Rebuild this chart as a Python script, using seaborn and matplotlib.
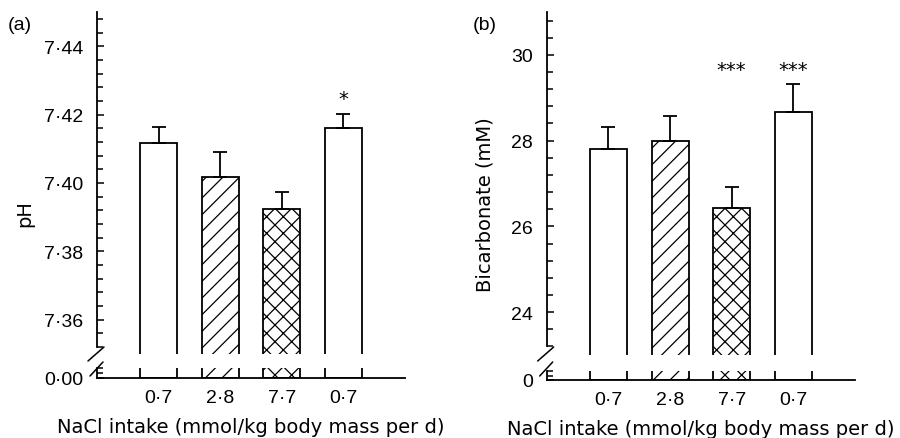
import matplotlib
matplotlib.use("Agg")
import matplotlib.pyplot as plt
from matplotlib.lines import Line2D
import seaborn as sns
import numpy as np
import pandas as pd

# ---- data ----
groups = ["g1", "g2", "g3", "g4"]
tick_labels = ["0·7", "2·8", "7·7", "0·7"]
hatches = ["", "//", "xx", ""]

ph_mean = [7.4117, 7.4017, 7.3923, 7.4160]
ph_sem = [0.0046, 0.0074, 0.0052, 0.0043]
ph_stars = ["", "", "", "*"]
ph_star_y = 7.4248

bic_mean = [27.80, 28.00, 26.44, 28.67]
bic_sem = [0.51, 0.57, 0.49, 0.66]
bic_stars = ["", "", "***", "***"]
bic_star_y = 29.67

ph_major = [7.36, 7.38, 7.40, 7.42, 7.44]
ph_major_lbl = ["7·36", "7·38", "7·40", "7·42", "7·44"]
bic_major = [24, 26, 28, 30]
bic_major_lbl = ["24", "26", "28", "30"]

xlabel = "NaCl intake (mmol/kg body mass per d)"

sns.set_theme(style="ticks")
plt.rcParams["font.family"] = ["Liberation Sans", "DejaVu Sans"]
plt.rcParams["hatch.linewidth"] = 0.9
plt.rcParams["axes.linewidth"] = 1.3
for key in ["text.color", "axes.labelcolor", "xtick.color", "ytick.color",
            "axes.edgecolor", "xtick.labelcolor", "ytick.labelcolor",
            "hatch.color"]:
    plt.rcParams[key] = "black"

LAB_FONT = ["DejaVu Sans"]

W, H = 900, 439
fig = plt.figure(figsize=(W / 100, H / 100), dpi=100)


def frac(x0, y0, x1, y1):
    return [x0 / W, 1 - y1 / H, (x1 - x0) / W, (y1 - y0) / H]


def draw_bars(ax, means):
    df = pd.DataFrame({"g": groups, "v": means})
    sns.barplot(data=df, x="g", y="v", ax=ax, color="white", saturation=1,
                edgecolor="black", linewidth=1.3, width=0.6, errorbar=None)
    for p, h in zip(ax.patches, hatches):
        p.set_hatch(h)
        p.set_facecolor("white")
        p.set_edgecolor("black")
    ax.set_xlim(-1, 4)
    ax.set_xlabel("")
    ax.set_ylabel("")


def panel(xl, xr, ytop, ybot, lo_top, lo_bot, means, sems, ylim, spine_lo,
          major, major_lbl, minor_step, zero_lbl, ylabel, ylab_xy, letter,
          letter_xy, stars, star_y):
    up = fig.add_axes(frac(xl, ytop, xr, ybot))
    lo = fig.add_axes(frac(xl, lo_top, xr, lo_bot))
    draw_bars(up, means)
    draw_bars(lo, means)
    x = np.arange(len(means))
    up.errorbar(x, means, yerr=[np.zeros(len(sems)), sems], fmt="none",
                ecolor="black", elinewidth=1.3, capsize=5, capthick=1.3)
    up.set_ylim(*ylim)
    lo.set_ylim(0, 1)
    for s in ["top", "right", "bottom"]:
        up.spines[s].set_visible(False)
    for s in ["top", "right"]:
        lo.spines[s].set_visible(False)
    up.spines["left"].set_bounds(spine_lo, ylim[1])
    up.set_yticks(major)
    up.set_yticklabels(major_lbl)
    minors = np.arange(spine_lo, ylim[1] + 1e-9, minor_step)
    up.set_yticks(minors, minor=True)
    up.tick_params(axis="y", which="major", direction="in", length=5,
                   width=1.1, pad=10, labelsize=14)
    up.tick_params(axis="y", which="minor", direction="in", length=4,
                   width=1.1)
    up.set_xticks([])
    up.set_ylabel(ylabel, fontsize=14, family=LAB_FONT)
    up.yaxis.set_label_coords(*ylab_xy)
    lo.set_yticks([0])
    lo.set_yticklabels([zero_lbl])
    lo.set_yticks([0.5, 1.0], minor=True)
    lo.tick_params(axis="y", which="major", direction="in", length=5,
                   width=1.1, pad=10, labelsize=14)
    lo.tick_params(axis="y", which="minor", direction="in", length=4,
                   width=1.1)
    lo.set_xticks(x)
    lo.set_xticklabels(tick_labels)
    lo.tick_params(axis="x", length=0, pad=8, labelsize=14)
    lo.set_xlabel(xlabel, fontsize=14, labelpad=8, family=LAB_FONT)
    for xi, s in zip(x, stars):
        if s:
            up.text(xi, star_y, s, ha="center", va="center", fontsize=14,
                    family=LAB_FONT)
    fig.text(letter_xy[0] / W, 1 - letter_xy[1] / H, letter, fontsize=14,
             ha="left", va="center")
    # axis break marks
    for (x0, y0, x1, y1) in [(xl - 9, 362, xl + 7, 348), (xl - 7, 377, xl + 6, 363)]:
        fig.add_artist(Line2D([x0 / W, x1 / W], [1 - y0 / H, 1 - y1 / H],
                              color="black", lw=1.1))
    return up, lo


panel(97, 405, 13, 355, 369, 379, ph_mean, ph_sem, (7.35, 7.45), 7.352,
      ph_major, ph_major_lbl, 0.004, "0·00", "pH", (-0.205, 0.415), "(a)",
      (8, 25), ph_stars, ph_star_y)
panel(546.7, 855, 13, 356, 372, 381, bic_mean, bic_sem, (23, 31), 23.2,
      bic_major, bic_major_lbl, 0.4, "0", "Bicarbonate (mM)", (-0.168, 0.44),
      "(b)", (473, 25), bic_stars, bic_star_y)

fig.savefig("out.png", dpi=100)
